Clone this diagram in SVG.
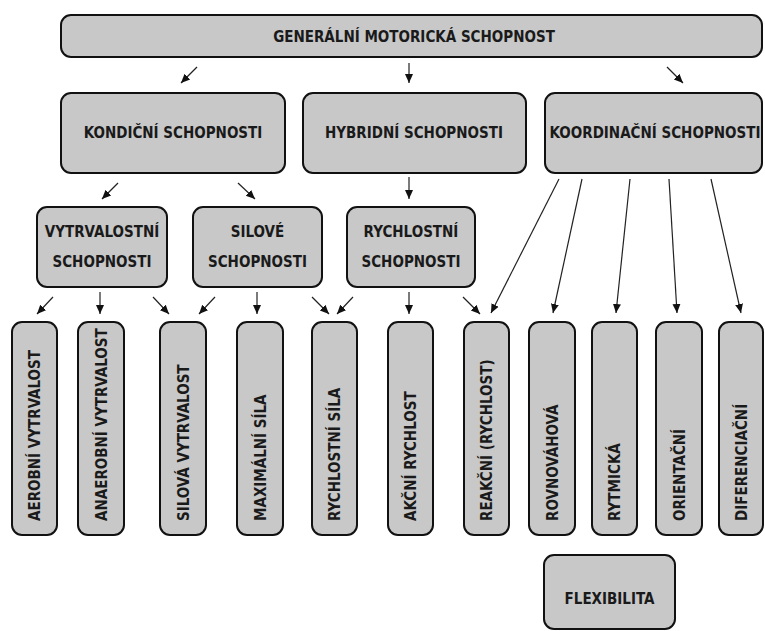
<svg xmlns="http://www.w3.org/2000/svg" width="765" height="631" viewBox="0 0 765 631">
<style>
.b{fill:#c8c8c8;stroke:#111;stroke-width:2}
.t{font-family:"DejaVu Sans Condensed","DejaVu Sans",sans-serif;font-weight:bold;font-size:15px;fill:#1a1a1a;text-anchor:middle}
.v{font-family:"DejaVu Sans Condensed","DejaVu Sans",sans-serif;font-weight:bold;font-size:15px;fill:#1a1a1a;text-anchor:start}
.c line{stroke:#222;stroke-width:1.2;marker-end:url(#ah)}
</style>
<defs>
<marker id="ah" markerUnits="userSpaceOnUse" markerWidth="10" markerHeight="10" viewBox="0 0 10 10" refX="9" refY="5" orient="auto">
<path d="M0,1 L9,5 L0,9 Z" fill="#111"/>
</marker>
</defs>
<rect width="765" height="631" fill="#fff"/>
<g id="general"><rect class="b" x="61" y="15" width="701" height="42" rx="10"/><text class="t" x="414" y="42">GENERÁLNÍ MOTORICKÁ SCHOPNOST</text></g>
<g id="kondicni"><rect class="b" x="61" y="93" width="224" height="80" rx="10"/><text class="t" x="173" y="138">KONDIČNÍ SCHOPNOSTI</text></g>
<g id="hybridni"><rect class="b" x="303" y="93" width="223" height="80" rx="10"/><text class="t" x="414" y="138">HYBRIDNÍ SCHOPNOSTI</text></g>
<g id="koordinacni"><rect class="b" x="545" y="93" width="217" height="80" rx="10"/><text class="t" x="655" y="138">KOORDINAČNÍ SCHOPNOSTI</text></g>
<g id="vytrvalostni"><rect class="b" x="37" y="207" width="130" height="80" rx="10"/><text class="t" x="102" y="237">VYTRVALOSTNÍ</text><text class="t" x="102" y="267">SCHOPNOSTI</text></g>
<g id="silove"><rect class="b" x="193" y="207" width="129" height="80" rx="10"/><text class="t" x="257.5" y="237">SILOVÉ</text><text class="t" x="257.5" y="267">SCHOPNOSTI</text></g>
<g id="rychlostni"><rect class="b" x="347" y="207" width="128" height="80" rx="10"/><text class="t" x="411" y="237">RYCHLOSTNÍ</text><text class="t" x="411" y="267">SCHOPNOSTI</text></g>
<g id="aerobni"><rect class="b" x="12" y="322" width="45" height="213" rx="10"/><text class="v" transform="translate(40,521) rotate(-90)">AEROBNÍ VYTRVALOST</text></g>
<g id="anaerobni"><rect class="b" x="78" y="322" width="46" height="213" rx="10"/><text class="v" transform="translate(106.5,521) rotate(-90)">ANAEROBNÍ VYTRVALOST</text></g>
<g id="silova-vytrvalost"><rect class="b" x="160" y="322" width="46" height="213" rx="10"/><text class="v" transform="translate(188.5,521) rotate(-90)">SILOVÁ VYTRVALOST</text></g>
<g id="maximalni-sila"><rect class="b" x="237" y="322" width="46" height="213" rx="10"/><text class="v" transform="translate(265.5,521) rotate(-90)">MAXIMÁLNÍ SÍLA</text></g>
<g id="rychlostni-sila"><rect class="b" x="312" y="322" width="45" height="213" rx="10"/><text class="v" transform="translate(340,521) rotate(-90)">RYCHLOSTNÍ SÍLA</text></g>
<g id="akcni-rychlost"><rect class="b" x="388" y="322" width="45" height="213" rx="10"/><text class="v" transform="translate(416,521) rotate(-90)">AKČNÍ RYCHLOST</text></g>
<g id="reakcni"><rect class="b" x="464" y="322" width="45" height="213" rx="10"/><text class="v" transform="translate(492,521) rotate(-90)">REAKČNÍ (RYCHLOST)</text></g>
<g id="rovnovahova"><rect class="b" x="529" y="322" width="46" height="213" rx="10"/><text class="v" transform="translate(557.5,521) rotate(-90)">ROVNOVÁHOVÁ</text></g>
<g id="rytmicka"><rect class="b" x="592" y="322" width="45" height="213" rx="10"/><text class="v" transform="translate(620,521) rotate(-90)">RYTMICKÁ</text></g>
<g id="orientacni"><rect class="b" x="656" y="322" width="46" height="213" rx="10"/><text class="v" transform="translate(684.5,521) rotate(-90)">ORIENTAČNÍ</text></g>
<g id="diferenciacni"><rect class="b" x="719" y="322" width="44" height="213" rx="10"/><text class="v" transform="translate(746.5,521) rotate(-90)">DIFERENCIAČNÍ</text></g>
<g id="flexibilita"><rect class="b" x="544" y="555" width="131" height="74" rx="10"/><text class="t" x="609.5" y="604">FLEXIBILITA</text></g>
<g id="connectors" class="c">
<line x1="197" y1="67" x2="181" y2="83"/>
<line x1="409" y1="63" x2="409" y2="83"/>
<line x1="667" y1="67" x2="683" y2="83"/>
<line x1="118" y1="183" x2="102" y2="199"/>
<line x1="238" y1="183" x2="255" y2="199"/>
<line x1="409" y1="177" x2="409" y2="199"/>
<line x1="559" y1="179" x2="491" y2="313"/>
<line x1="582" y1="179" x2="553" y2="313"/>
<line x1="630" y1="179" x2="616" y2="313"/>
<line x1="669" y1="179" x2="677" y2="313"/>
<line x1="711" y1="179" x2="741" y2="313"/>
<line x1="53" y1="297" x2="37" y2="314"/>
<line x1="100" y1="292" x2="100" y2="314"/>
<line x1="153" y1="297" x2="169" y2="314"/>
<line x1="215" y1="297" x2="199" y2="314"/>
<line x1="257" y1="292" x2="257" y2="314"/>
<line x1="312" y1="297" x2="329" y2="314"/>
<line x1="353" y1="297" x2="337" y2="314"/>
<line x1="409" y1="292" x2="409" y2="314"/>
<line x1="463" y1="297" x2="480" y2="314"/>
</g>
</svg>
